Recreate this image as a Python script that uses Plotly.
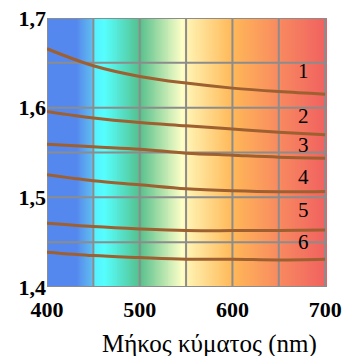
"""
Refractive index vs wavelength for six glasses,
drawn over the visible spectrum
"""
import numpy as np
import plotly.graph_objects as go

wavelength = [400, 450, 500, 550, 600, 650, 700]
n1 = [1.6657, 1.6467, 1.6348, 1.6274, 1.6218, 1.6180, 1.6151]
n2 = [1.5957, 1.5884, 1.5834, 1.5798, 1.5761, 1.5727, 1.5697]
n3 = [1.5593, 1.5563, 1.5537, 1.5493, 1.5470, 1.5448, 1.5437]
n4 = [1.5251, 1.5184, 1.5140, 1.5095, 1.5073, 1.5062, 1.5065]
n5 = [1.4711, 1.4674, 1.4648, 1.4630, 1.4629, 1.4630, 1.4635]
n6 = [1.4388, 1.4350, 1.4328, 1.4310, 1.4310, 1.4302, 1.4310]
series = [n1, n2, n3, n4, n5, n6]

labels = ["1", "2", "3", "4", "5", "6"]
label_x = 677
label_y = [1.6404, 1.5909, 1.5586, 1.5232, 1.4860, 1.4506]

x_ticks = [400, 450, 500, 550, 600, 650, 700]
x_text = ["400", "", "500", "", "600", "", "700"]
y_ticks = [1.40, 1.45, 1.50, 1.55, 1.60, 1.65, 1.70]
y_text = ["1,4", "", "1,5", "", "1,6", "", "1,7"]

x_min, x_max = 400, 702
y_min, y_max = 1.4, 1.7

# spectrum colours, stops in nm
spectrum = [
    (400, "#5588ee"), (432, "#5588ee"), (449.5, "#60c0f0"),
    (450, "#55eeff"), (462, "#55ffff"), (500, "#55c08c"),
    (546, "#ffffc8"), (550, "#fff4b4"), (600, "#ffb858"),
    (650, "#f88a60"), (702, "#f06060"),
]
cscale = [[(w - x_min) / (x_max - x_min), c] for w, c in spectrum]

edges = np.linspace(x_min, x_max, 303)
mids = (edges[:-1] + edges[1:]) / 2

fig = go.Figure()
fig.add_trace(go.Heatmap(x=edges, y=[y_min, y_max], z=[mids],
                         colorscale=cscale, zmin=x_min, zmax=x_max,
                         showscale=False, hoverinfo="skip"))

# grid drawn as a trace so it sits above the spectrum but under the curves
gx, gy = [], []
for v in x_ticks:
    gx += [v, v, None]
    gy += [y_min, y_max, None]
for v in y_ticks:
    gx += [x_min, x_max, None]
    gy += [v, v, None]
fig.add_trace(go.Scatter(x=gx, y=gy, mode="lines", hoverinfo="skip",
                         line=dict(color="#8c8c8c", width=2)))

for s in series:
    fig.add_trace(go.Scatter(x=wavelength, y=s, mode="lines",
                             line=dict(color="#9e6030", width=3, shape="spline")))

for t, y in zip(labels, label_y):
    fig.add_annotation(x=label_x, y=y, text=t, showarrow=False,
                       font=dict(family="Liberation Serif", size=21, color="black"))

fig.add_annotation(x=0.582, y=-0.212, xref="paper", yref="paper",
                   text="Μήκος κύματος (nm)", showarrow=False, yanchor="middle",
                   font=dict(family="Liberation Serif", size=25, color="black"))

tick_font = dict(family="Liberation Serif", size=22, color="black", weight="bold")
fig.update_xaxes(range=[x_min, x_max], tickvals=x_ticks, ticktext=x_text,
                 showgrid=False, zeroline=False, automargin=False,
                 ticks="outside", ticklen=3, tickcolor="rgba(0,0,0,0)",
                 tickfont=tick_font)
fig.update_yaxes(range=[y_min, y_max], tickvals=y_ticks, ticktext=y_text,
                 showgrid=False, zeroline=False, automargin=False,
                 tickfont=tick_font)
fig.update_layout(
    width=348, height=356,
    margin=dict(l=47, r=21, t=18, b=69),
    paper_bgcolor="white", plot_bgcolor="white",
    showlegend=False,
)

fig.write_html("out.html", config={"displayModeBar": False},
               post_script="document.body.style.margin='0';")
